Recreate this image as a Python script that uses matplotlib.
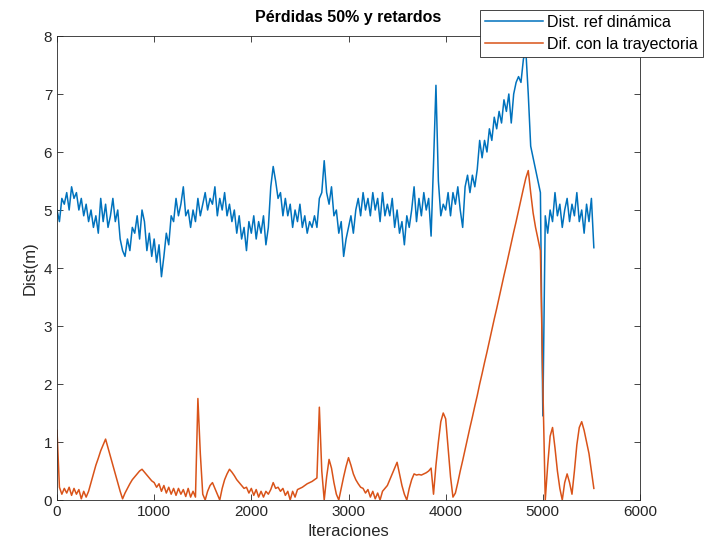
import numpy as np
import matplotlib
matplotlib.use("Agg")
import matplotlib.pyplot as plt

plt.rcParams['font.family'] = ['Liberation Sans', 'DejaVu Sans']

# muestreo cada 25 iteraciones, 0 .. 5525
step = 25

dist_ref = [
    5.0, 4.8, 5.2, 5.1, 5.3, 5.0, 5.4, 5.2,
    5.3, 5.0, 5.2, 4.9, 5.1, 4.8, 5.0, 4.7,
    4.9, 4.6, 5.2, 4.8, 5.1, 4.7, 4.9, 5.2,
    4.8, 5.0, 4.5, 4.3, 4.2, 4.5, 4.3, 4.7,
    4.6, 4.9, 4.5, 5.0, 4.8, 4.3, 4.6, 4.2,
    4.5, 4.1, 4.4, 3.85, 4.2, 4.6, 4.4, 4.9,
    4.8, 5.2, 4.9, 5.1, 5.4, 4.9, 5.0, 4.7,
    5.0, 4.8, 5.2, 4.9, 5.1, 5.3, 5.0, 5.2,
    5.1, 5.4, 4.9, 5.2, 5.0, 5.3, 4.9, 5.1,
    4.8, 5.0, 4.6, 4.9, 4.5, 4.7, 4.3, 4.8,
    4.6, 4.9, 4.5, 4.8, 4.6, 4.9, 4.4, 4.7,
    5.4, 5.75, 5.5, 5.2, 5.3, 4.9, 5.2, 4.9,
    5.1, 4.7, 5.0, 4.8, 5.1, 4.7, 4.9, 4.6,
    4.8, 4.7, 4.9, 4.7, 5.2, 5.3, 5.85, 5.3,
    5.1, 5.4, 4.9, 5.0, 4.6, 4.8, 4.2, 4.5,
    4.7, 4.9, 4.6, 5.0, 5.2, 4.9, 5.3, 5.0,
    5.2, 4.9, 5.3, 5.0, 5.2, 4.8, 5.3, 4.9,
    5.1, 4.9, 5.2, 4.7, 5.0, 4.6, 4.8, 4.4,
    4.9, 4.7, 5.0, 5.4, 4.8, 5.2, 4.9, 5.3,
    5.0, 5.2, 4.55, 5.8, 7.15, 5.5, 4.9, 5.1,
    5.0, 5.3, 4.9, 5.3, 5.1, 5.4, 5.0, 4.7,
    5.4, 5.6, 5.3, 5.6, 5.4, 5.7, 6.2, 5.9,
    6.2, 6.0, 6.4, 6.2, 6.6, 6.4, 6.7, 6.5,
    6.9, 6.7, 7.0, 6.5, 7.0, 7.2, 7.3, 7.2,
    7.6, 7.75, 7.0, 6.1, 5.9, 5.7, 5.5, 5.3,
    1.45, 4.9, 4.6, 5.0, 4.8, 5.3, 4.9, 5.1,
    4.7, 5.0, 5.2, 4.8, 5.1, 4.9, 5.3, 4.8,
    5.0, 4.6, 5.1, 4.8, 5.2, 4.35,
]

dif_tray = [
    1.2, 0.22, 0.1, 0.2, 0.12, 0.22, 0.08, 0.2,
    0.1, 0.18, 0.02, 0.15, 0.05, 0.15, 0.3, 0.45,
    0.6, 0.72, 0.85, 0.95, 1.05, 0.9, 0.75, 0.6,
    0.45, 0.3, 0.15, 0.02, 0.12, 0.2, 0.28, 0.35,
    0.4, 0.45, 0.5, 0.53, 0.48, 0.43, 0.38, 0.33,
    0.3, 0.22, 0.28, 0.15, 0.25, 0.12, 0.22, 0.1,
    0.2, 0.08, 0.2, 0.1, 0.18, 0.06, 0.2, 0.05,
    0.15, 0.05, 1.75, 0.8, 0.1, 0.0, 0.15, 0.25,
    0.3, 0.2, 0.1, 0.0, 0.2, 0.35, 0.45, 0.53,
    0.48, 0.42, 0.35, 0.3, 0.25, 0.2, 0.22, 0.12,
    0.2, 0.08, 0.18, 0.05, 0.15, 0.05, 0.15, 0.1,
    0.18, 0.3, 0.2, 0.22, 0.15, 0.2, 0.08, 0.15,
    0.0, 0.15, 0.05, 0.18, 0.2, 0.22, 0.25, 0.28,
    0.3, 0.32, 0.35, 0.38, 1.6, 0.5, 0.0, 0.4,
    0.7, 0.55, 0.3, 0.1, 0.0, 0.2, 0.4, 0.58,
    0.73, 0.6, 0.45, 0.35, 0.28, 0.22, 0.2, 0.12,
    0.18, 0.05, 0.15, 0.02, 0.12, 0.0, 0.15, 0.2,
    0.25, 0.35, 0.45, 0.55, 0.65, 0.45, 0.25, 0.1,
    0.0, 0.2, 0.35, 0.45, 0.43, 0.44, 0.43, 0.45,
    0.47, 0.5, 0.55, 0.1, 0.6, 1.0, 1.35, 1.5,
    1.4, 0.9, 0.4, 0.05, 0.12, 0.3, 0.5, 0.68,
    0.87, 1.06, 1.25, 1.43, 1.62, 1.8, 2.0, 2.18,
    2.37, 2.55, 2.74, 2.93, 3.12, 3.3, 3.49, 3.68,
    3.87, 4.05, 4.24, 4.43, 4.62, 4.8, 4.99, 5.18,
    5.37, 5.55, 5.68, 5.3, 4.95, 4.7, 4.5, 4.3,
    2.0, 0.0, 0.6, 1.1, 1.25, 0.9, 0.5, 0.2,
    0.0, 0.3, 0.45, 0.3, 0.1, 0.5, 0.95, 1.25,
    1.35, 1.2, 1.0, 0.8, 0.5, 0.2,
]

it_ref = np.arange(len(dist_ref)) * step
it_dif = np.arange(len(dif_tray)) * step

fig = plt.figure(figsize=(7.04, 5.56), dpi=100)
ax = fig.add_axes([57/704, 56/556, 583/704, 464/556])

ax.plot(it_ref, dist_ref, color='#0072BD', lw=1.1, label='Dist. ref dinámica')
ax.plot(it_dif, dif_tray, color='#D95319', lw=1.1, label='Dif. con la trayectoria')

ax.set_xlim(0, 6000)
ax.set_ylim(0, 8)
ax.set_xticks(np.arange(0, 6001, 1000))
ax.set_yticks(np.arange(0, 9, 1))
ax.tick_params(direction='in', top=True, right=True, labelsize=11,
               colors='#262626', length=4, width=0.6)
for s in ax.spines.values():
    s.set_color('#262626')
    s.set_linewidth(0.6)

ax.set_xlabel('Iteraciones', fontsize=12, color='#262626')
ax.set_ylabel('Dist(m)', fontsize=12, color='#262626')
ax.set_title('Pérdidas 50% y retardos', fontsize=11.5, fontweight='bold', pad=10)

leg = ax.legend(loc='upper right', bbox_to_anchor=(703/704, 1 - 10/556),
                bbox_transform=fig.transFigure, borderaxespad=0,
                fancybox=False, framealpha=1, edgecolor='#262626',
                fontsize=11.5, handlelength=3.6, handletextpad=0.3,
                borderpad=0.3, labelspacing=0.45)
leg.get_frame().set_linewidth(0.6)

fig.savefig('out.png', dpi=100)
